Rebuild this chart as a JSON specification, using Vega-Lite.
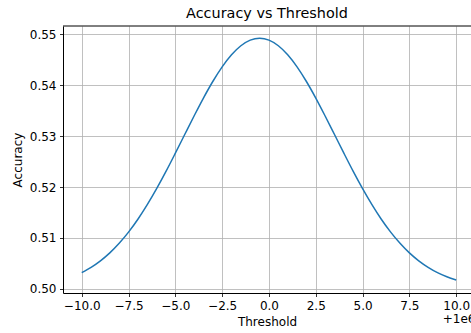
{
  "$schema": "https://vega.github.io/schema/vega-lite/v6.json",
  "autosize": "none",
  "width": 408,
  "height": 267,
  "padding": {"left": 63, "top": 26, "right": 0, "bottom": 40},
  "background": "white",
  "title": {"text": "Accuracy vs Threshold", "fontSize": 14.4, "fontWeight": "normal", "font": "DejaVu Sans", "color": "black", "offset": 4},
  "config": {
    "view": {"stroke": null},
    "axis": {
      "labelFont": "DejaVu Sans", "titleFont": "DejaVu Sans",
      "labelFontSize": 12, "titleFontSize": 12, "titleFontWeight": "normal",
      "labelColor": "black", "titleColor": "black",
      "domainColor": "black", "domainWidth": 1,
      "tickColor": "black", "tickSize": 3.5, "tickWidth": 0.8,
      "labelPadding": 3.5,
      "gridColor": "#b0b0b0", "gridWidth": 0.8, "gridOpacity": 1
    }
  },
  "layer": [
    {
      "data": {"values": [
        {"threshold": -10, "accuracy": 0.50319},
        {"threshold": -9.5, "accuracy": 0.50423},
        {"threshold": -9, "accuracy": 0.50551},
        {"threshold": -8.5, "accuracy": 0.50707},
        {"threshold": -8, "accuracy": 0.50895},
        {"threshold": -7.5, "accuracy": 0.51114},
        {"threshold": -7, "accuracy": 0.51367},
        {"threshold": -6.5, "accuracy": 0.51653},
        {"threshold": -6, "accuracy": 0.51967},
        {"threshold": -5.5, "accuracy": 0.52306},
        {"threshold": -5, "accuracy": 0.52664},
        {"threshold": -4.5, "accuracy": 0.53030},
        {"threshold": -4, "accuracy": 0.53394},
        {"threshold": -3.5, "accuracy": 0.53746},
        {"threshold": -3, "accuracy": 0.54071},
        {"threshold": -2.5, "accuracy": 0.54358},
        {"threshold": -2, "accuracy": 0.54596},
        {"threshold": -1.5, "accuracy": 0.54773},
        {"threshold": -1, "accuracy": 0.54883},
        {"threshold": -0.5, "accuracy": 0.54920},
        {"threshold": 0, "accuracy": 0.54883},
        {"threshold": 0.5, "accuracy": 0.54773},
        {"threshold": 1, "accuracy": 0.54596},
        {"threshold": 1.5, "accuracy": 0.54358},
        {"threshold": 2, "accuracy": 0.54071},
        {"threshold": 2.5, "accuracy": 0.53746},
        {"threshold": 3, "accuracy": 0.53394},
        {"threshold": 3.5, "accuracy": 0.53030},
        {"threshold": 4, "accuracy": 0.52664},
        {"threshold": 4.5, "accuracy": 0.52306},
        {"threshold": 5, "accuracy": 0.51967},
        {"threshold": 5.5, "accuracy": 0.51653},
        {"threshold": 6, "accuracy": 0.51367},
        {"threshold": 6.5, "accuracy": 0.51114},
        {"threshold": 7, "accuracy": 0.50895},
        {"threshold": 7.5, "accuracy": 0.50707},
        {"threshold": 8, "accuracy": 0.50551},
        {"threshold": 8.5, "accuracy": 0.50423},
        {"threshold": 9, "accuracy": 0.50319},
        {"threshold": 9.5, "accuracy": 0.50238},
        {"threshold": 10, "accuracy": 0.50174}
      ]},
      "mark": {"type": "line", "color": "#1f77b4", "strokeWidth": 1.5, "interpolate": "monotone"},
      "encoding": {
        "x": {"field": "threshold", "type": "quantitative",
          "scale": {"domain": [-11, 10.79], "nice": false, "zero": false},
          "axis": {"title": "Threshold", "values": [-10, -7.5, -5, -2.5, 0, 2.5, 5, 7.5, 10], "format": ".1f", "grid": true, "titlePadding": 5}},
        "y": {"field": "accuracy", "type": "quantitative",
          "scale": {"domain": [0.4992, 0.5516], "nice": false, "zero": false},
          "axis": {"title": "Accuracy", "values": [0.50, 0.51, 0.52, 0.53, 0.54, 0.55], "format": ".2f", "grid": true, "titlePadding": 5}}
      }
    },
    {
      "data": {"values": [{"label": "top"}]},
      "mark": {"type": "rule", "color": "black", "strokeWidth": 1},
      "encoding": {"y": {"datum": 0.5516}}
    },
    {
      "data": {"values": [{"label": "+1e6"}]},
      "mark": {"type": "text", "align": "right", "baseline": "top", "font": "DejaVu Sans", "fontSize": 12, "color": "black", "dy": 21},
      "encoding": {"text": {"field": "label"}, "x": {"datum": 11.03}, "y": {"datum": 0.4992}}
    }
  ]
}
